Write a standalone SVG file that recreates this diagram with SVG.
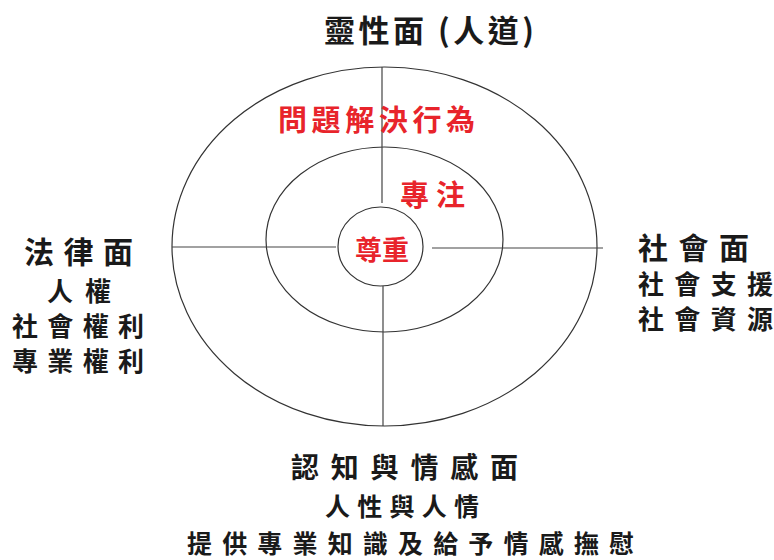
<svg xmlns="http://www.w3.org/2000/svg" width="774" height="560" viewBox="0 0 774 560">
<style>
.ring{fill:none;stroke:#333;stroke-width:1.2}
.ln{stroke:#444;stroke-width:1.2}
text{font-family:"Noto Sans CJK TC","Noto Sans CJK SC",sans-serif;font-weight:700}
.blk{fill:#1a1a1a}
.red{fill:#e8242b}
.sub{font-size:26px}
</style>
<rect width="774" height="560" fill="#fff"/>
<g id="rings">
<ellipse class="ring" cx="384.5" cy="246.5" rx="212.5" ry="179.5"/>
<ellipse class="ring" cx="384.5" cy="239.5" rx="118.5" ry="92.5"/>
<ellipse class="ring" cx="380.5" cy="246.5" rx="42.5" ry="39.5"/>
</g>
<g id="connectors">
<line class="ln" x1="382" y1="67" x2="382" y2="203"/>
<line class="ln" x1="383" y1="286" x2="383" y2="426"/>
<line class="ln" x1="172" y1="247" x2="336" y2="247"/>
<line class="ln" x1="432" y1="248" x2="603" y2="248"/>
</g>
<g id="core">
<text class="red" x="355" y="260" font-size="27" textLength="54" lengthAdjust="spacing">尊重</text>
</g>
<g id="focus">
<text class="red" x="400" y="206" font-size="29" textLength="65" lengthAdjust="spacing">專注</text>
</g>
<g id="problem">
<text class="red" x="278" y="131" font-size="29" textLength="197" lengthAdjust="spacing">問題解決行為</text>
</g>
<g id="spiritual">
<text class="blk" x="324" y="42" font-size="31" textLength="210" lengthAdjust="spacing">靈性面 (人道)</text>
</g>
<g id="legal">
<text class="blk" x="24" y="263" font-size="30" textLength="109" lengthAdjust="spacing">法律面</text>
<text class="blk sub" x="47" y="301" textLength="64" lengthAdjust="spacing">人權</text>
<text class="blk sub" x="12" y="336" textLength="132" lengthAdjust="spacing">社會權利</text>
<text class="blk sub" x="12" y="371" textLength="132" lengthAdjust="spacing">專業權利</text>
</g>
<g id="social">
<text class="blk" x="638" y="259" font-size="30" textLength="111" lengthAdjust="spacing">社會面</text>
<text class="blk sub" x="638" y="294" textLength="135" lengthAdjust="spacing">社會支援</text>
<text class="blk sub" x="638" y="329" textLength="135" lengthAdjust="spacing">社會資源</text>
</g>
<g id="cognitive">
<text class="blk" x="291" y="478" font-size="28" textLength="227" lengthAdjust="spacing">認知與情感面</text>
<text class="blk" x="325" y="516" font-size="25" textLength="154" lengthAdjust="spacing">人性與人情</text>
<text class="blk" x="187" y="553" font-size="25" textLength="447" lengthAdjust="spacing">提供專業知識及給予情感撫慰</text>
</g>
</svg>
